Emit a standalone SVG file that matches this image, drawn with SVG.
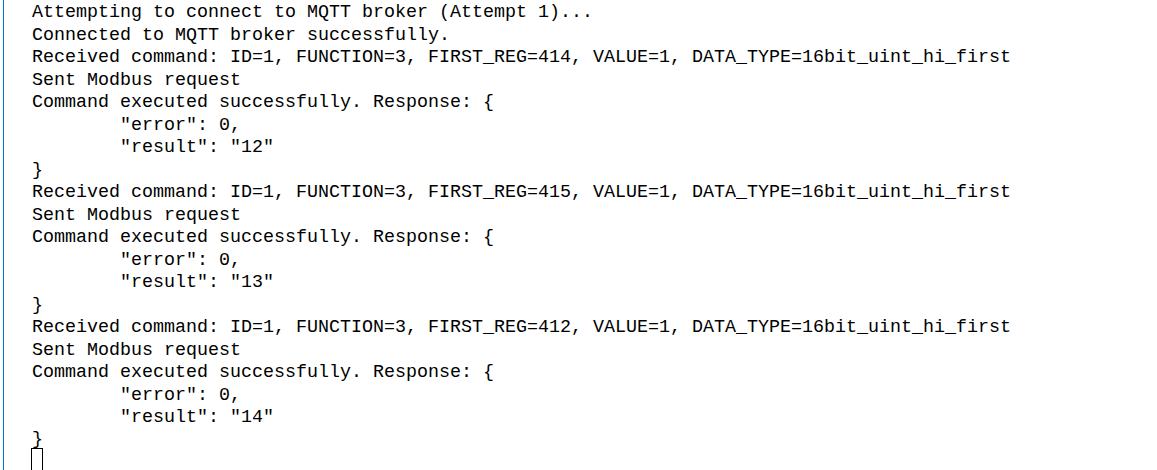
<svg xmlns="http://www.w3.org/2000/svg" width="1157" height="470" viewBox="0 0 1157 470">
<style>
text{font-family:"Liberation Mono","DejaVu Sans Mono",monospace;font-size:18.33px;fill:#000;white-space:pre}
</style>
<rect width="1157" height="470" fill="#fff"/>
<rect id="edge" x="3" y="0" width="1" height="470" fill="#0078d7"/>
<g id="console">
<text x="32" y="17">Attempting to connect to MQTT broker (Attempt 1)...</text>
<text x="32" y="39.5">Connected to MQTT broker successfully.</text>
<text x="32" y="62">Received command: ID=1, FUNCTION=3, FIRST_REG=414, VALUE=1, DATA_TYPE=16bit_uint_hi_first</text>
<text x="32" y="84.5">Sent Modbus request</text>
<text x="32" y="107">Command executed successfully. Response: {</text>
<text x="120" y="129.5">"error": 0,</text>
<text x="120" y="152">"result": "12"</text>
<text x="32" y="174.5">}</text>
<text x="32" y="197">Received command: ID=1, FUNCTION=3, FIRST_REG=415, VALUE=1, DATA_TYPE=16bit_uint_hi_first</text>
<text x="32" y="219.5">Sent Modbus request</text>
<text x="32" y="242">Command executed successfully. Response: {</text>
<text x="120" y="264.5">"error": 0,</text>
<text x="120" y="287">"result": "13"</text>
<text x="32" y="309.5">}</text>
<text x="32" y="332">Received command: ID=1, FUNCTION=3, FIRST_REG=412, VALUE=1, DATA_TYPE=16bit_uint_hi_first</text>
<text x="32" y="354.5">Sent Modbus request</text>
<text x="32" y="377">Command executed successfully. Response: {</text>
<text x="120" y="399.5">"error": 0,</text>
<text x="120" y="422">"result": "14"</text>
<text x="32" y="444">}</text>
</g>
<rect id="cursor" x="31.5" y="448.5" width="11" height="30" fill="none" stroke="#000" stroke-width="1"/>
</svg>
